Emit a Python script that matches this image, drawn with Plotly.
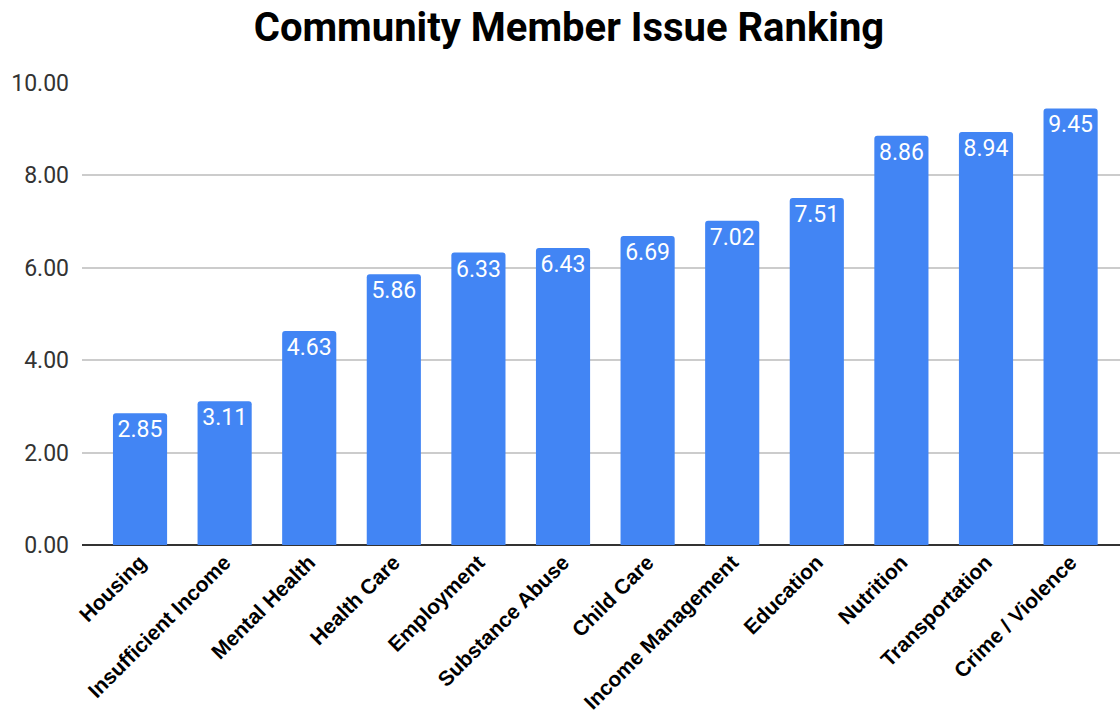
import plotly.graph_objects as go

categories = ["Housing", "Insufficient Income", "Mental Health", "Health Care",
              "Employment", "Substance Abuse", "Child Care", "Income Management",
              "Education", "Nutrition", "Transportation", "Crime / Violence"]
scores = [2.85, 3.11, 4.63, 5.86, 6.33, 6.43, 6.69, 7.02, 7.51, 8.86, 8.94, 9.45]
y_ticks = [0, 2, 4, 6, 8, 10]

fig = go.Figure(go.Bar(
    x=list(range(len(categories))),
    y=scores,
    width=0.64,
    marker=dict(color="#4285F4", cornerradius=3, line=dict(width=0)),
    text=[f"{v:.2f}" for v in scores],
    textposition="inside",
    insidetextanchor="end",
    textfont=dict(family="Roboto", size=23, color="white"),
    textangle=0,
    cliponaxis=False,
))

fig.update_layout(
    width=1120, height=721,
    margin=dict(l=82, r=0, t=83, b=176),
    paper_bgcolor="white", plot_bgcolor="white",
    showlegend=False,
    title=dict(text="<b>Community Member Issue Ranking</b>",
               x=0.508, xanchor="center", y=0.962, yanchor="middle",
               font=dict(family="Roboto", size=40, color="#000000")),
    uniformtext=dict(minsize=23, mode="show"),
    xaxis=dict(
        range=[-0.686, 11.584],
        tickmode="array",
        tickvals=list(range(len(categories))),
        ticktext=[f"<b>{c}</b>" for c in categories],
        tickangle=-45,
        tickfont=dict(family="Liberation Sans, Arial", size=21, color="#000000"),
        showgrid=False, zeroline=False, showline=False, ticks="",
    ),
    yaxis=dict(
        range=[0, 10],
        tickmode="array",
        tickvals=y_ticks,
        ticktext=[f"{t:.2f}" for t in y_ticks],
        tickfont=dict(family="Roboto", size=23, color="#333333"),
        showgrid=True, gridcolor="#cccccc", gridwidth=1.5,
        zeroline=True, zerolinecolor="#333333", zerolinewidth=1.5,
        showline=False, ticks="", ticklabelstandoff=12,
    ),
)

fig.write_html("out.html")
